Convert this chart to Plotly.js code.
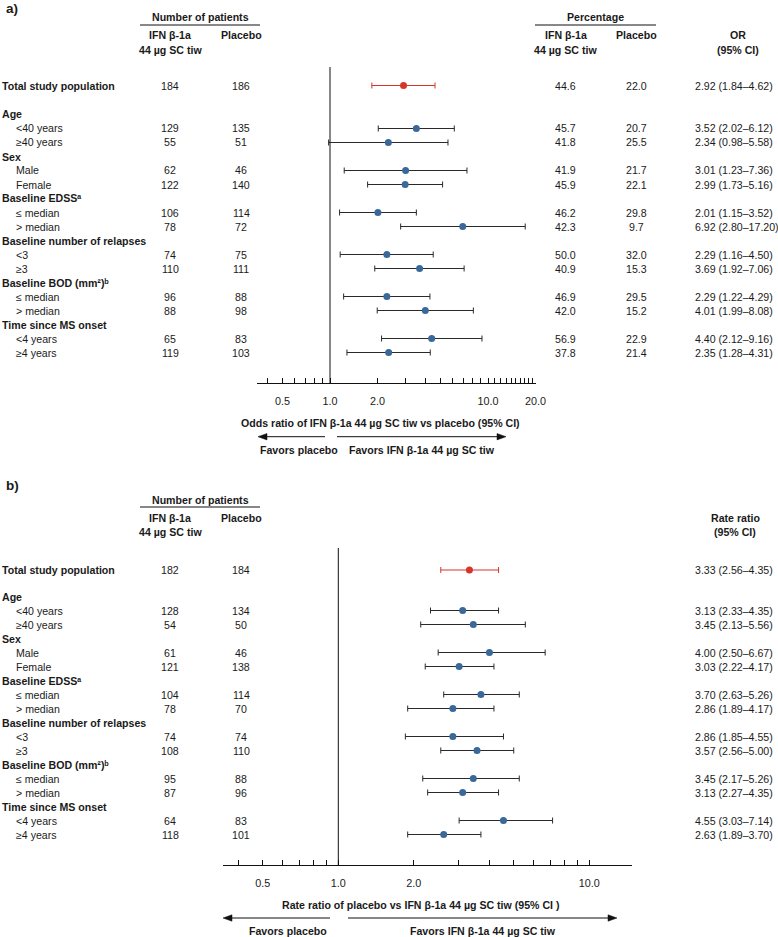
<!DOCTYPE html>
<html>
<head>
<meta charset="utf-8">
<script src="https://cdn.plot.ly/plotly-3.0.1.min.js"></script>
<style>html,body{margin:0;padding:0;background:#fff;}#chart{width:778px;height:937px;}</style>
</head>
<body>
<div id="chart"></div>
<script>
// ---------------- DATA ----------------
const groupHeaders = ["Age", "Sex", "Baseline EDSSᵃ", "Baseline number of relapses",
  "Baseline BOD (mm²)ᵇ", "Time since MS onset"];
const subgroups = ["Total study population", "<40 years", "≥40 years", "Male", "Female",
  "≤ median", "> median", "<3", "≥3", "≤ median", "> median", "<4 years", "≥4 years"];

// Panel a: odds ratio
const nIfnA = [184, 129, 55, 62, 122, 106, 78, 74, 110, 96, 88, 65, 119];
const nPlaA = [186, 135, 51, 46, 140, 114, 72, 75, 111, 88, 98, 83, 103];
const pctIfnA = ["44.6", "45.7", "41.8", "41.9", "45.9", "46.2", "42.3", "50.0", "40.9", "46.9", "42.0", "56.9", "37.8"];
const pctPlaA = ["22.0", "20.7", "25.5", "21.7", "22.1", "29.8", "9.7", "32.0", "15.3", "29.5", "15.2", "22.9", "21.4"];
const orA   = [2.92, 3.52, 2.34, 3.01, 2.99, 2.01, 6.92, 2.29, 3.69, 2.29, 4.01, 4.40, 2.35];
const orLoA = [1.84, 2.02, 0.98, 1.23, 1.73, 1.15, 2.80, 1.16, 1.92, 1.22, 1.99, 2.12, 1.28];
const orHiA = [4.62, 6.12, 5.58, 7.36, 5.16, 3.52, 17.20, 4.50, 7.06, 4.29, 8.08, 9.16, 4.31];

// Panel b: rate ratio
const nIfnB = [182, 128, 54, 61, 121, 104, 78, 74, 108, 95, 87, 64, 118];
const nPlaB = [184, 134, 50, 46, 138, 114, 70, 74, 110, 88, 96, 83, 101];
const rrB   = [3.33, 3.13, 3.45, 4.00, 3.03, 3.70, 2.86, 2.86, 3.57, 3.45, 3.13, 4.55, 2.63];
const rrLoB = [2.56, 2.33, 2.13, 2.50, 2.22, 2.63, 1.89, 1.85, 2.56, 2.17, 2.27, 3.03, 1.89];
const rrHiB = [4.35, 4.35, 5.56, 6.67, 4.17, 5.26, 4.17, 4.55, 5.00, 5.26, 4.35, 7.14, 3.70];

const majorTicksA = [0.5, 1, 2, 10, 20];
const majorLabelsA = ["0.5", "1.0", "2.0", "10.0", "20.0"];
const minorTicksA = [0.4, 0.6, 0.7, 0.8, 0.9, 3, 4, 5, 6, 7, 8, 9, 11, 12, 13, 14, 15, 16, 17, 18, 19];
const majorTicksB = [0.5, 1, 2, 10];
const majorLabelsB = ["0.5", "1.0", "2.0", "10.0"];
const minorTicksB = [0.4, 0.6, 0.7, 0.8, 0.9, 3, 4, 5, 6, 7, 8, 9];

const axisTitleA = "Odds ratio of IFN β-1a 44 µg SC tiw vs placebo (95% CI)";
const axisTitleB = "Rate ratio of placebo vs IFN β-1a 44 µg SC tiw (95% CI )";

// ---------------- LAYOUT HELPERS ----------------
const W = 778, H = 937;
const FONT = "Liberation Sans, Arial, Helvetica, sans-serif";
const FS = 10.6;
const TXT = "#1a1a1a";
const BLUE = "#3a6899", RED = "#d6352a", BAR = "#2a2a2a";
const px = x => x / W;
const py = y => 1 - y / H;

function rowLayout(totalY, firstY) {
  const rows = [];
  rows.push({kind: "total", idx: 0, y: totalY});
  let y = firstY, d = 1;
  for (let g = 0; g < groupHeaders.length; g++) {
    rows.push({kind: "head", g: g, y: y}); y += 14;
    for (let k = 0; k < 2; k++) { rows.push({kind: "sub", idx: d++, y: y}); y += 14; }
  }
  return rows;
}
const rowsA = rowLayout(85.5, 114.5);
const rowsB = rowLayout(570, 596.5);
const yOfA = rowsA.filter(r => r.kind !== "head").map(r => r.y);
const yOfB = rowsB.filter(r => r.kind !== "head").map(r => r.y);

const ann = [];
const shapes = [];
function T(text, x, y, opts) {
  ann.push(Object.assign({text: text, x: px(x), y: py(y), xref: "paper", yref: "paper",
    showarrow: false, xanchor: "center", yanchor: "middle",
    font: {family: FONT, size: FS, color: TXT}}, opts || {}));
}
function hline(x0, x1, y) {
  shapes.push({type: "line", xref: "paper", yref: "paper", x0: px(x0), x1: px(x1), y0: py(y), y1: py(y),
    line: {color: "#111", width: 1}});
}
function arrow(tipX, tailX, y) {
  const dir = tailX > tipX ? 1 : -1;
  const baseX = tipX + dir * 9;
  hline(baseX, tailX, y);
  shapes.push({type: "path", xref: "paper", yref: "paper",
    path: "M " + px(tipX) + " " + py(y) + " L " + px(baseX) + " " + py(y - 3.2) +
          " L " + px(baseX) + " " + py(y + 3.2) + " Z",
    fillcolor: "#111", line: {color: "#111", width: 0.5}});
}

function tableRows(rows, nI, nP, extra) {
  rows.forEach(r => {
    if (r.kind === "head") {
      T("<b>" + groupHeaders[r.g] + "</b>", 0, r.y, {xanchor: "left"});
    } else {
      const i = r.idx;
      if (r.kind === "total") T("<b>" + subgroups[i] + "</b>", 0, r.y, {xanchor: "left"});
      else T(subgroups[i], 14, r.y, {xanchor: "left"});
      T(String(nI[i]), 170, r.y);
      T(String(nP[i]), 241, r.y);
      extra(i, r.y);
    }
  });
}

// ---- Panel a text ----
T("<b>a)</b>", 4, 9, {xanchor: "left", font: {family: FONT, size: 13.5, color: TXT}});
T("<b>Number of patients</b>", 200, 17);
T("<b>IFN β-1a</b>", 170, 35); T("<b>44 µg SC tiw</b>", 170, 50);
T("<b>Placebo</b>", 241, 35);
T("<b>Percentage</b>", 595, 17);
T("<b>IFN β-1a</b>", 565.7, 35); T("<b>44 µg SC tiw</b>", 565.7, 50);
T("<b>Placebo</b>", 636.7, 35);
T("<b>OR</b>", 737.7, 35); T("<b>(95% CI)</b>", 737.7, 50);
const fmt = v => v.toFixed(2);
tableRows(rowsA, nIfnA, nPlaA, (i, y) => {
  T(pctIfnA[i], 565.7, y);
  T(pctPlaA[i], 636.7, y);
  T(fmt(orA[i]) + " (" + fmt(orLoA[i]) + "–" + fmt(orHiA[i]) + ")", 693.3, y, {xanchor: "left"});
});
T("<b>" + axisTitleA + "</b>", 380, 422.7);
arrow(258, 325, 436.7); arrow(506, 337, 436.7);
T("<b>Favors placebo</b>", 298.5, 449.5);
T("<b>Favors IFN β-1a 44 µg SC tiw</b>", 421.5, 449.5);

// ---- Panel b text ----
T("<b>b)</b>", 4, 485, {xanchor: "left", font: {family: FONT, size: 13.5, color: TXT}});
T("<b>Number of patients</b>", 200, 500);
T("<b>IFN β-1a</b>", 170, 518); T("<b>44 µg SC tiw</b>", 170, 532);
T("<b>Placebo</b>", 241, 518);
T("<b>Rate ratio</b>", 735, 518); T("<b>(95% CI)</b>", 735, 532);
tableRows(rowsB, nIfnB, nPlaB, (i, y) => {
  T(fmt(rrB[i]) + " (" + fmt(rrLoB[i]) + "–" + fmt(rrHiB[i]) + ")", 693.3, y, {xanchor: "left"});
});
T("<b>" + axisTitleB + "</b>", 420, 905);
arrow(223, 330, 918); arrow(617, 348, 918);
T("<b>Favors placebo</b>", 288.3, 931);
T("<b>Favors IFN β-1a 44 µg SC tiw</b>", 483.3, 931);

// ---------------- TRACES ----------------
function forest(vals, lo, hi, yPos, xa, ya) {
  const out = [];
  const sets = [{idx: [0], color: RED, bar: RED}, {idx: vals.map((_, i) => i).slice(1), color: BLUE, bar: BAR}];
  sets.forEach(s => {
    out.push({
      type: "scatter", mode: "markers", xaxis: xa, yaxis: ya, hoverinfo: "skip",
      x: s.idx.map(i => vals[i]), y: s.idx.map(i => yPos[i]),
      marker: {color: s.color, size: 7, line: {width: 0}},
      error_x: {type: "data", symmetric: false,
        array: s.idx.map(i => hi[i] - vals[i]), arrayminus: s.idx.map(i => vals[i] - lo[i]),
        color: s.bar, thickness: 1, width: 3}
    });
  });
  return out;
}
const traces = forest(orA, orLoA, orHiA, yOfA, "x", "y").concat(forest(rrB, rrLoB, rrHiB, yOfB, "x2", "y2"));

function xAxis(domain, range, major, labels, minor, anchor) {
  return {
    type: "log", domain: domain, range: range, anchor: anchor,
    showline: true, linecolor: "#111", linewidth: 1, showgrid: false, zeroline: false,
    ticks: "inside", ticklen: 5, tickwidth: 1, tickcolor: "#111",
    tickmode: "array", tickvals: major, ticktext: labels,
    minor: {tickmode: "array", tickvals: minor, ticks: "inside", ticklen: 5, tickwidth: 1, tickcolor: "#111", showgrid: false},
    ticklabelstandoff: 8,
    tickfont: {family: FONT, size: 10.8, color: TXT}, fixedrange: true
  };
}
const aLeft = 256.7, aRight = 330 + Math.log10(20) * 158;
const bLeft = 223, bRight = 631.7;
shapes.push(
  {type: "line", xref: "x", yref: "y", x0: 1, x1: 1, y0: 67, y1: 383.3, line: {color: "#111", width: 1}},
  {type: "line", xref: "x2", yref: "y2", x0: 1, x1: 1, y0: 548, y1: 865, line: {color: "#111", width: 1}}
);
hline(140, 260, 25);
hline(535, 656, 25);
hline(140, 260, 507);

const layout = {
  width: W, height: H, margin: {l: 0, r: 0, t: 0, b: 0},
  paper_bgcolor: "#fff", plot_bgcolor: "rgba(0,0,0,0)", showlegend: false,
  font: {family: FONT, size: FS, color: TXT},
  xaxis: xAxis([px(aLeft), px(aRight)], [(aLeft - 330) / 158, Math.log10(20)], majorTicksA, majorLabelsA, minorTicksA, "y"),
  xaxis2: xAxis([px(bLeft), px(bRight)], [(bLeft - 338.3) / 251, (bRight - 338.3) / 251], majorTicksB, majorLabelsB, minorTicksB, "y2"),
  yaxis: {domain: [py(383.3), 1], range: [383.3, 0], visible: false, fixedrange: true},
  yaxis2: {domain: [py(865), py(460)], range: [865, 460], visible: false, fixedrange: true},
  shapes: shapes,
  annotations: ann
};
Plotly.newPlot("chart", traces, layout, {staticPlot: true, displayModeBar: false});
</script>
</body>
</html>
